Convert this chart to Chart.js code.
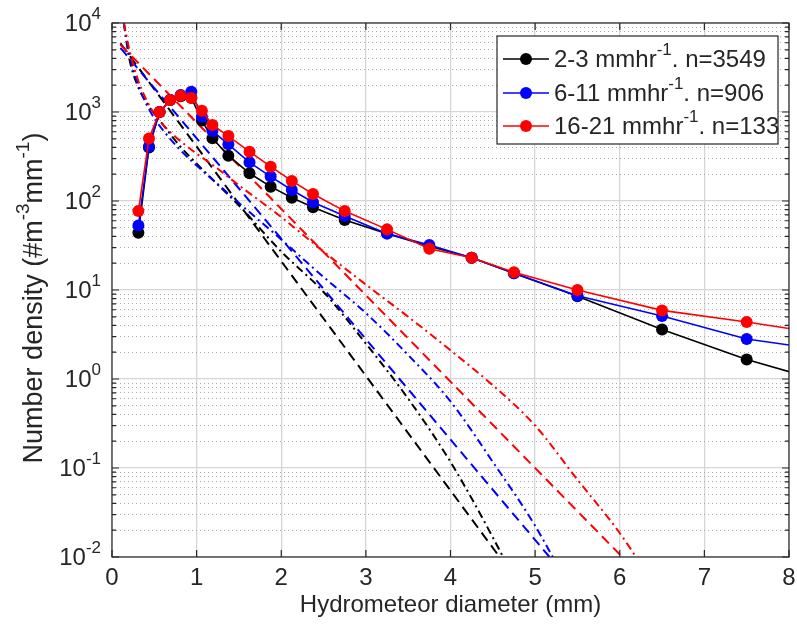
<!DOCTYPE html>
<html lang="en">
<head>
<meta charset="UTF-8">
<title>Hydrometeor size distributions</title>
<script src="https://cdn.jsdelivr.net/npm/chart.js"></script>
<style>
  body { margin: 0; background: #fff; }
  #dsdChart { display: block; }
</style>
</head>
<body>
<canvas id="dsdChart" width="797" height="630"></canvas>
<script>
// disdrometer class centres (mm)
const diameters = [0.312, 0.437, 0.562, 0.687, 0.812, 0.937, 1.062, 1.187, 1.375, 1.625, 1.875, 2.125, 2.375, 2.75, 3.25, 3.75, 4.25, 4.75, 5.5, 6.5, 7.5, 8.5];
// measured number density, one array per rain-rate class
const nd2to3   = [44, 400, 1000, 1360, 1500, 1450, 800, 506, 323, 205, 145, 109, 85, 61, 43, 31, 23, 15.4, 8.5, 3.6, 1.66, 0.88];
const nd6to11  = [53, 410, 1000, 1360, 1550, 1690, 885, 612, 434, 272, 188, 133, 97, 68, 43, 32, 23, 15.4, 8.6, 5.1, 2.81, 2.07];
const nd16to21 = [77, 505, 1000, 1360, 1520, 1440, 1035, 714, 537, 358, 243, 168, 120, 77, 48, 29, 23, 15.8, 10.0, 5.9, 4.37, 3.13];

// dashed fits (straight on log axis): start and end points
const dashX2to3 = [0.1, 4.58];    const dashY2to3 = [5900, 0.01];
const dashX6to11 = [0.1, 5.17];   const dashY6to11 = [5250, 0.01];
const dashX16to21 = [0.1, 6.03];  const dashY16to21 = [5700, 0.01];

// dash-dot fits
const dotDashX = [0.14, 0.2, 0.3, 0.4, 0.5, 0.6, 0.8, 1.0, 1.2, 1.5, 2.0, 2.5, 3.0, 3.5, 4.0, 4.5, 5.0, 5.5, 6.0, 6.5];
const dotDash2to3   = [10000, 4170, 2000, 1320, 955, 725, 417, 263, 170, 89, 27, 9.5, 2.5, 0.6, 0.117, 0.0166, 0.0019, 0.0002, 0.00002, 0.000002];
const dotDash6to11  = [10000, 4800, 2140, 1260, 850, 630, 380, 250, 170, 95, 37, 14, 5.5, 1.86, 0.56, 0.117, 0.0224, 0.003, 0.0004, 0.00005];
const dotDash16to21 = [10000, 5250, 2400, 1410, 955, 725, 480, 340, 250, 150, 66, 27, 11.5, 5.0, 2.1, 0.85, 0.30, 0.074, 0.0186, 0.0035];

const legendRows = [
  { name: '2-3 mmhr', tail: '. n=3549', color: '#000000' },
  { name: '6-11 mmhr', tail: '. n=906', color: '#0000ff' },
  { name: '16-21 mmhr', tail: '. n=133', color: '#ff0000' }
];

const majorY = [0.01, 0.1, 1, 10, 100, 1000, 10000];
const minorY = [];
majorY.slice(0, -1).forEach(d => { for (let m = 2; m <= 9; m++) minorY.push(+(m * d).toPrecision(3)); });

const FONT = "'Liberation Sans', Arial, sans-serif";
const INK = '#262626';
const FS = 24;

const pts = (xs, ys) => xs.map((x, i) => ({ x: x, y: ys[i] }));

const measured = (label, ys, color) => ({
  label: label, data: pts(diameters, ys),
  borderColor: color, backgroundColor: color,
  pointBackgroundColor: color, pointBorderColor: color,
  pointRadius: 6, pointBorderWidth: 0, borderWidth: 1.6, tension: 0
});
const fitLine = (xs, ys, color, dash) => ({
  data: pts(xs, ys), borderColor: color, borderWidth: 2,
  borderDash: dash, pointRadius: 0, cubicInterpolationMode: 'monotone'
});

const DASH = [10, 6];
const DASHDOT = [8, 4, 2, 4];

// text with superscripts: parts = [[text, isSup], ...]
function richWidth(ctx, parts, size) {
  let w = 0;
  parts.forEach(([t, sup]) => {
    ctx.font = (sup ? Math.round(size * 0.7) : size) + 'px ' + FONT;
    w += ctx.measureText(t).width;
  });
  return w;
}
function drawRich(ctx, parts, x, y, size) {
  let cx = x;
  ctx.textBaseline = 'middle';
  ctx.textAlign = 'left';
  parts.forEach(([t, sup]) => {
    ctx.font = (sup ? Math.round(size * 0.7) : size) + 'px ' + FONT;
    ctx.fillText(t, cx, sup ? y - size * 0.42 : y);
    cx += ctx.measureText(t).width;
  });
}

const decorations = {
  id: 'decorations',
  beforeDraw(chart) {
    const ctx = chart.ctx;
    ctx.save();
    ctx.fillStyle = '#fff';
    ctx.fillRect(0, 0, chart.width, chart.height);
    ctx.restore();
  },
  afterDraw(chart) {
    const ctx = chart.ctx;
    const a = chart.chartArea;
    const xs = chart.scales.x, ys = chart.scales.y;
    ctx.save();
    ctx.strokeStyle = INK;
    ctx.lineWidth = 1.2;
    ctx.strokeRect(a.left, a.top, a.right - a.left, a.bottom - a.top);

    ctx.beginPath();
    for (let v = 0; v <= 8; v++) {
      const px = xs.getPixelForValue(v);
      ctx.moveTo(px, a.bottom); ctx.lineTo(px, a.bottom - 7);
      ctx.moveTo(px, a.top); ctx.lineTo(px, a.top + 7);
    }
    majorY.forEach(v => {
      const py = ys.getPixelForValue(v);
      ctx.moveTo(a.left, py); ctx.lineTo(a.left + 7, py);
      ctx.moveTo(a.right, py); ctx.lineTo(a.right - 7, py);
    });
    minorY.forEach(v => {
      const py = ys.getPixelForValue(v);
      ctx.moveTo(a.left, py); ctx.lineTo(a.left + 4, py);
      ctx.moveTo(a.right, py); ctx.lineTo(a.right - 4, py);
    });
    ctx.stroke();

    // y tick labels 10^n
    ctx.fillStyle = INK;
    majorY.forEach(v => {
      const e = Math.round(Math.log10(v));
      const parts = [['10', false], [String(e), true]];
      const w = richWidth(ctx, parts, FS);
      drawRich(ctx, parts, 101 - w, ys.getPixelForValue(v) + 1, FS);
    });

    // y axis title
    const title = [['Number density (#m', false], ['-3', true], ['mm', false], ['-1', true], [')', false]];
    ctx.save();
    ctx.translate(35, 298);
    ctx.rotate(-Math.PI / 2);
    const tw = richWidth(ctx, title, 27);
    drawRich(ctx, title, -tw / 2, 0, 27);
    ctx.restore();

    // legend
    const bx = 497, by = 36, bw = 281, bh = 108;
    ctx.fillStyle = '#fff';
    ctx.fillRect(bx, by, bw, bh);
    ctx.strokeStyle = INK;
    ctx.lineWidth = 1.2;
    ctx.strokeRect(bx, by, bw, bh);
    const rowY = [59, 93, 126];
    legendRows.forEach((r, i) => {
      const y = rowY[i];
      ctx.strokeStyle = r.color;
      ctx.lineWidth = 1.6;
      ctx.beginPath();
      ctx.moveTo(503, y); ctx.lineTo(549, y);
      ctx.stroke();
      ctx.fillStyle = r.color;
      ctx.beginPath();
      ctx.arc(526, y, 6, 0, Math.PI * 2);
      ctx.fill();
      ctx.fillStyle = INK;
      drawRich(ctx, [[r.name, false], ['-1', true], [r.tail, false]], 554, y + 1, FS);
    });
    ctx.restore();
  }
};

const gridColor = '#d6d6d6';

new Chart(document.getElementById('dsdChart'), {
  type: 'line',
  data: {
    datasets: [
      measured('16-21 mmhr-1. n=133', nd16to21, '#ff0000'),
      measured('6-11 mmhr-1. n=906', nd6to11, '#0000ff'),
      measured('2-3 mmhr-1. n=3549', nd2to3, '#000000'),
      fitLine(dashX16to21, dashY16to21, '#ff0000', DASH),
      fitLine(dotDashX, dotDash16to21, '#ff0000', DASHDOT),
      fitLine(dashX6to11, dashY6to11, '#0000ff', DASH),
      fitLine(dotDashX, dotDash6to11, '#0000ff', DASHDOT),
      fitLine(dashX2to3, dashY2to3, '#000000', DASH),
      fitLine(dotDashX, dotDash2to3, '#000000', DASHDOT)
    ]
  },
  options: {
    responsive: false,
    animation: false,
    devicePixelRatio: 1,
    layout: { padding: { left: 112, top: 23, right: 8, bottom: 13 } },
    plugins: { legend: { display: false }, tooltip: { enabled: false } },
    scales: {
      x: {
        type: 'linear', min: 0, max: 8,
        ticks: { stepSize: 1, color: INK, font: { family: FONT, size: FS, lineHeight: 1 }, padding: 9, maxRotation: 0 },
        grid: { color: gridColor, lineWidth: 1.3, drawTicks: false },
        border: { display: false },
        title: { display: true, text: 'Hydrometeor diameter (mm)', color: INK, font: { family: FONT, size: FS, lineHeight: 1 }, padding: { top: -6, bottom: 0 } },
        afterFit: s => { s.paddingLeft = 0; s.paddingRight = 0; }
      },
      yMinor: {
        type: 'logarithmic', position: 'left', min: 0.01, max: 10000,
        afterBuildTicks: s => { s.ticks = minorY.map(v => ({ value: v })); },
        ticks: { display: false },
        grid: { color: '#aaaaaa', lineWidth: 1, drawTicks: false },
        border: { display: false, dash: [1, 3] },
        afterFit: s => { s.width = 0; }
      },
      y: {
        type: 'logarithmic', position: 'left', min: 0.01, max: 10000,
        afterBuildTicks: s => { s.ticks = majorY.map(v => ({ value: v })); },
        ticks: { display: false },
        grid: { color: gridColor, lineWidth: 1.3, drawTicks: false },
        border: { display: false },
        afterFit: s => { s.width = 0; }
      }
    }
  },
  plugins: [decorations]
});
</script>
</body>
</html>
